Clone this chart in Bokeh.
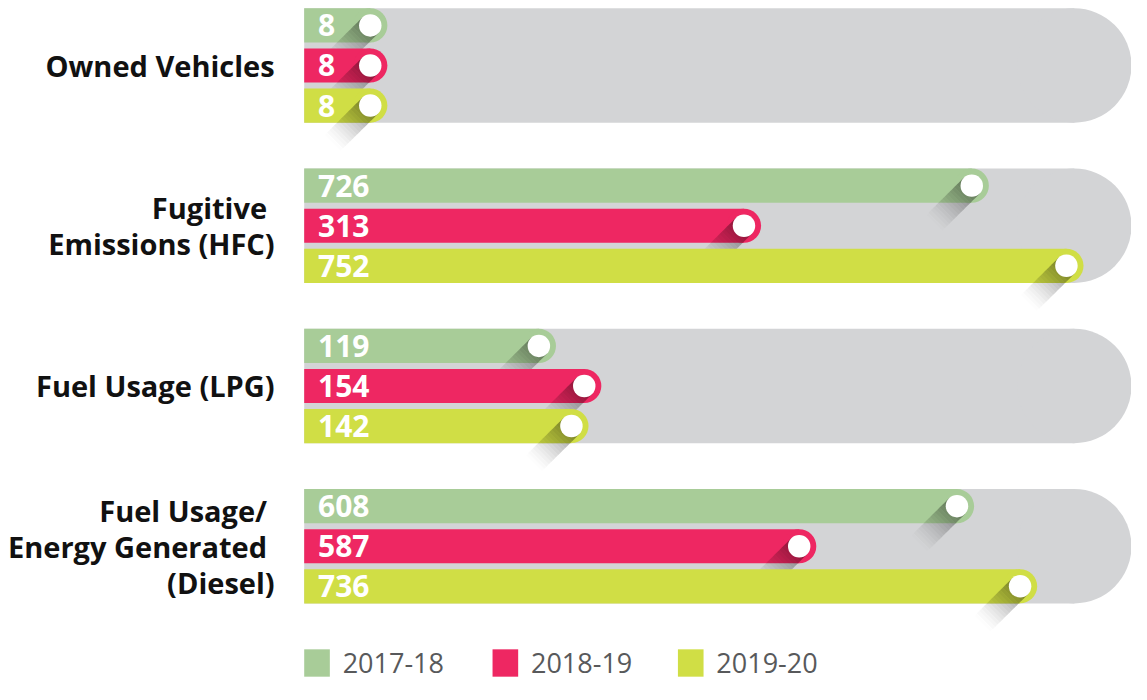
import math
from bokeh.plotting import figure
from bokeh.models import Range1d, ColumnDataSource
from bokeh.embed import file_html
from bokeh.resources import INLINE
from bokeh.core.properties import value

# ---------------- data ----------------
category_lines = [
    ["Owned Vehicles"],
    ["Fugitive ", "Emissions (HFC)"],
    ["Fuel Usage (LPG)"],
    ["Fuel Usage/ ", "Energy Generated ", "(Diesel)"],
]
years = ["2017-18", "2018-19", "2019-20"]
values_2017_18 = [8, 726, 119, 608]
values_2018_19 = [8, 313, 154, 587]
values_2019_20 = [8, 752, 142, 736]
# position of the end-marker dot along each bar (display units)
marker_2017_18 = [67, 677, 238, 662]
marker_2018_19 = [67, 446, 284, 502]
marker_2019_20 = [67, 773, 271, 726]
track_length = 781

colors = ["#A8CC98", "#EE2762", "#D0DE45"]
track_color = "#D3D4D6"
FONT = "Open Sans"

series_values = [values_2017_18, values_2018_19, values_2019_20]
series_marker = [marker_2017_18, marker_2018_19, marker_2019_20]

W, H = 1131, 684
p = figure(width=W, height=H, output_backend="svg", toolbar_location=None,
           x_range=Range1d(-308, 839), y_range=Range1d(700, 0),
           min_border=0)
p.axis.visible = False
p.grid.visible = False
p.outline_line_color = None
p.background_fill_color = "white"
p.border_fill_color = "white"

group_pitch = 164
group_top0 = 8
bar_h = 35
bar_pitch = 41
track_h = 2 * bar_pitch + bar_h
n_groups = len(category_lines)

group_tops = [group_top0 + group_pitch * g for g in range(n_groups)]
group_centers = [t + track_h / 2 for t in group_tops]

# grey tracks
p.hbar(y=group_centers, left=0, right=track_length, height=track_h,
       fill_color=track_color, line_color=None)
p.circle(x=[track_length] * n_groups, y=group_centers, radius=track_h / 2,
         radius_dimension="y", fill_color=track_color, line_color=None)

dot_r = 11.5
shadow_len = 54
n_slices = 16
s2 = 1 / math.sqrt(2)

for s in range(3):
    ys = [t + bar_h / 2 + s * bar_pitch for t in group_tops]
    src = ColumnDataSource(dict(y=ys, right=series_marker[s]))
    p.hbar(y="y", left=0, right="right", height=bar_h, source=src,
           fill_color=colors[s], line_color=None)
    p.circle(x="right", y="y", radius=bar_h / 2, radius_dimension="y", source=src,
             fill_color=colors[s], line_color=None)
    # long shadow of the dot
    xs_all, ys_all, alphas = [], [], []
    for cx, cy in zip(series_marker[s], ys):
        for k in range(n_slices):
            a = k * shadow_len / n_slices
            b = (k + 1) * shadow_len / n_slices
            nx, ny = dot_r * s2, dot_r * s2
            dx, dy = -s2, s2
            xs_all.append([cx + nx + dx * a, cx + nx + dx * b, cx - nx + dx * b, cx - nx + dx * a])
            ys_all.append([cy + ny + dy * a, cy + ny + dy * b, cy - ny + dy * b, cy - ny + dy * a])
            alphas.append(0.42 * (1 - k / n_slices) ** 1.4)
    p.patches(xs=xs_all, ys=ys_all, fill_color="black", fill_alpha=alphas, line_color=None)
    p.circle(x="right", y="y", radius=dot_r, radius_dimension="y", source=src,
             fill_color="white", line_color=None)

# value labels
for s in range(3):
    ys = [t + bar_h / 2 + s * bar_pitch for t in group_tops]
    p.text(x=[14] * n_groups, y=ys, text=[str(v) for v in series_values[s]],
           text_color="white", text_font=value(FONT), text_font_style="bold",
           text_font_size="30px", text_baseline="middle", text_align="left")

# category labels
line_gap = 37
lx, ly, lt = [], [], []
for g, lines in enumerate(category_lines):
    n = len(lines)
    for i, ln in enumerate(lines):
        lx.append(-30)
        ly.append(group_centers[g] + (i - (n - 1) / 2) * line_gap)
        lt.append(ln)
p.text(x=lx, y=ly, text=lt, text_color="#111111", text_font=value(FONT),
       text_font_style="bold", text_font_size="29px",
       text_baseline="middle", text_align="right")

# legend
leg_y = 678
leg_x = [0, 191, 379]
p.rect(x=[x + 13 for x in leg_x], y=[leg_y] * 3, width=26, height=28,
       fill_color=colors, line_color=None)
p.text(x=[x + 39 for x in leg_x], y=[leg_y] * 3, text=years, text_color="#58595B",
       text_font=value(FONT), text_font_size="27px",
       text_baseline="middle", text_align="left")

open("out.html", "w").write(file_html(p, INLINE))
